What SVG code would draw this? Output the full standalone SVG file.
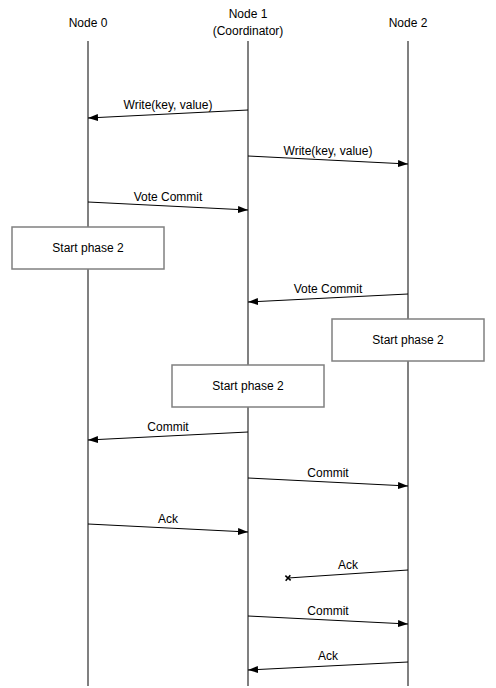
<svg xmlns="http://www.w3.org/2000/svg" width="496" height="688" viewBox="0 0 496 688">
<defs>
<marker id="arr" markerUnits="userSpaceOnUse" markerWidth="11" markerHeight="8" refX="10" refY="3.5" orient="auto">
<path d="M0,0 L10,3.5 L0,7 Z" fill="#000"/>
</marker>
<marker id="cross" markerUnits="userSpaceOnUse" markerWidth="8" markerHeight="8" refX="4" refY="4" orient="auto">
<path d="M1.5,1.5 L6.5,6.5 M6.5,1.5 L1.5,6.5" stroke="#000" stroke-width="1.6"/>
</marker>
<style>
text{font-family:"Liberation Sans",Arial,Helvetica,sans-serif;font-size:12px;fill:#000;text-anchor:middle}
.life{stroke:#808080;stroke-width:2;fill:none}
.msg{stroke:#000;stroke-width:1;fill:none;marker-end:url(#arr)}
.lost{stroke:#000;stroke-width:1;fill:none;marker-end:url(#cross)}
.box{fill:#fff;stroke:#808080;stroke-width:1.5}
</style>
</defs>
<rect width="496" height="688" fill="#fff"/>
<g id="node0">
<text x="88" y="27">Node 0</text>
<line class="life" x1="88" y1="41" x2="88" y2="686"/>
</g>
<g id="node1">
<text x="248" y="18">Node 1</text>
<text x="248" y="35">(Coordinator)</text>
<line class="life" x1="248" y1="41" x2="248" y2="686"/>
</g>
<g id="node2">
<text x="408" y="27">Node 2</text>
<line class="life" x1="408" y1="41" x2="408" y2="686"/>
</g>
<g id="phase2-node0">
<rect class="box" x="12" y="227" width="152" height="42"/>
<text x="88" y="252">Start phase 2</text>
</g>
<g id="phase2-node2">
<rect class="box" x="332" y="319" width="152" height="42"/>
<text x="408" y="344">Start phase 2</text>
</g>
<g id="phase2-node1">
<rect class="box" x="172" y="365" width="152" height="42"/>
<text x="248" y="390">Start phase 2</text>
</g>
<g id="connectors">
<line class="msg" x1="248" y1="110" x2="88" y2="118"/>
<text x="168" y="109">Write(key, value)</text>
<line class="msg" x1="248" y1="156" x2="408" y2="164"/>
<text x="328" y="155">Write(key, value)</text>
<line class="msg" x1="88" y1="202" x2="248" y2="210"/>
<text x="168" y="201">Vote Commit</text>
<line class="msg" x1="408" y1="294" x2="248" y2="302"/>
<text x="328" y="293">Vote Commit</text>
<line class="msg" x1="248" y1="432" x2="88" y2="440"/>
<text x="168" y="431">Commit</text>
<line class="msg" x1="248" y1="478" x2="408" y2="486"/>
<text x="328" y="477">Commit</text>
<line class="msg" x1="88" y1="524" x2="248" y2="532"/>
<text x="168" y="523">Ack</text>
<line class="lost" x1="408" y1="570" x2="288" y2="578"/>
<text x="348" y="569">Ack</text>
<line class="msg" x1="248" y1="616" x2="408" y2="624"/>
<text x="328" y="615">Commit</text>
<line class="msg" x1="408" y1="662" x2="248" y2="670"/>
<text x="328" y="660">Ack</text>
</g>
</svg>
